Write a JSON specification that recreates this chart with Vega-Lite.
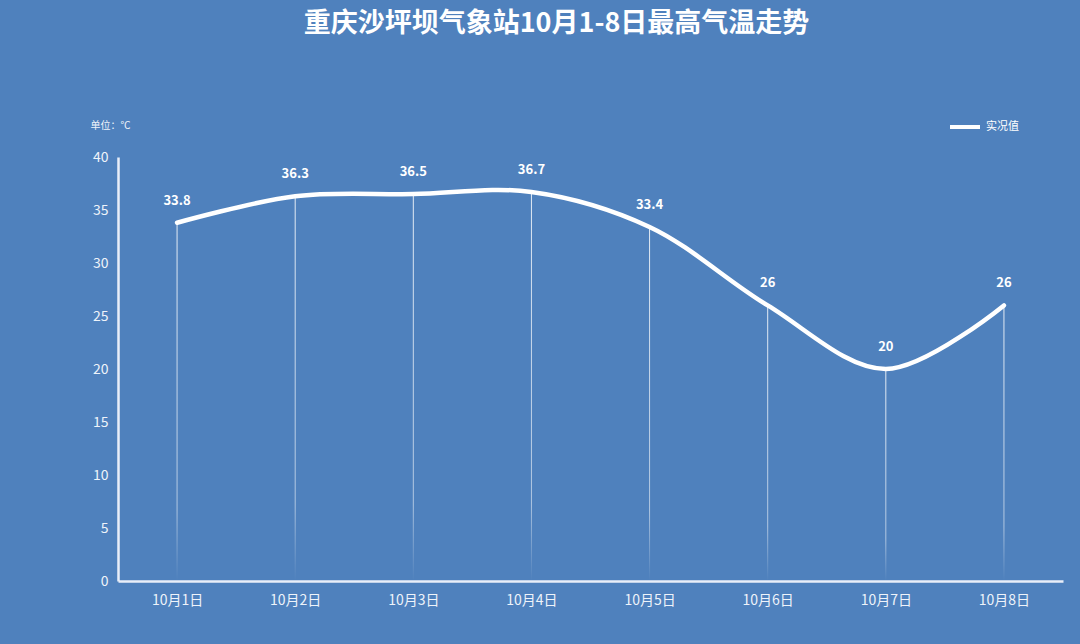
{
  "$schema": "https://vega.github.io/schema/vega-lite/v6.json",
  "width": 945,
  "height": 424,
  "autosize": {"type": "none"},
  "padding": {"left": 118, "top": 157, "right": 17, "bottom": 63},
  "background": "#4f81bd",
  "config": {
    "view": {"stroke": null},
    "font": "Noto Sans CJK SC"
  },
  "title": {
    "text": "重庆沙坪坝气象站10月1-8日最高气温走势",
    "fontSize": 27,
    "fontWeight": "bold",
    "color": "#ffffff",
    "anchor": "middle",
    "dx": -34,
    "offset": 72,
    "font": "Noto Sans CJK SC"
  },
  "data": {
    "values": [
      {"date": "10月1日", "temp": 33.8, "series": "实况值"},
      {"date": "10月2日", "temp": 36.3, "series": "实况值"},
      {"date": "10月3日", "temp": 36.5, "series": "实况值"},
      {"date": "10月4日", "temp": 36.7, "series": "实况值"},
      {"date": "10月5日", "temp": 33.4, "series": "实况值"},
      {"date": "10月6日", "temp": 26, "series": "实况值"},
      {"date": "10月7日", "temp": 20, "series": "实况值"},
      {"date": "10月8日", "temp": 26, "series": "实况值"}
    ]
  },
  "encoding": {
    "x": {
      "field": "date",
      "type": "ordinal",
      "sort": null,
      "scale": {"type": "point", "padding": 0.5},
      "axis": {
        "title": null,
        "labelAngle": 0,
        "labelColor": "#eef3fa",
        "labelFontSize": 14,
        "labelPadding": 12,
        "ticks": false,
        "domainColor": "#e8eef8",
        "domainWidth": 2.5,
        "grid": false
      }
    },
    "y": {
      "field": "temp",
      "type": "quantitative",
      "scale": {"domain": [0, 40], "nice": false},
      "axis": {
        "title": "单位：℃",
        "titleAngle": 0,
        "titleAlign": "left",
        "titleBaseline": "middle",
        "titleX": -28,
        "titleY": -32,
        "titleFontSize": 10,
        "titleFontWeight": "normal",
        "titleColor": "#eef3fa",
        "values": [0, 5, 10, 15, 20, 25, 30, 35, 40],
        "labelColor": "#eef3fa",
        "labelFontSize": 14,
        "labelPadding": 10,
        "ticks": false,
        "grid": false,
        "domainColor": "#e8eef8",
        "domainWidth": 2.5
      }
    }
  },
  "layer": [
    {
      "mark": {
        "type": "bar",
        "width": 1,
        "color": {
          "gradient": "linear",
          "x1": 0, "y1": 0, "x2": 0, "y2": 1,
          "stops": [
            {"offset": 0, "color": "rgba(255,255,255,0.85)"},
            {"offset": 0.8, "color": "rgba(255,255,255,0.55)"},
            {"offset": 1, "color": "rgba(255,255,255,0)"}
          ]
        }
      },
      "encoding": {
        "y2": {"datum": 0}
      }
    },
    {
      "mark": {
        "type": "line",
        "interpolate": "catmull-rom",
        "strokeWidth": 4.5,
        "strokeCap": "round"
      },
      "encoding": {
        "color": {
          "field": "series",
          "type": "nominal",
          "scale": {"range": ["#ffffff"]},
          "legend": {
            "title": null,
            "orient": "none",
            "legendX": 830,
            "legendY": -47,
            "symbolType": "stroke",
            "symbolStrokeWidth": 4,
            "symbolSize": 900,
            "labelColor": "#ffffff",
            "labelFontSize": 11,
            "labelOffset": 4
          }
        }
      }
    },
    {
      "mark": {
        "type": "text",
        "dy": -22,
        "fontSize": 13,
        "fontWeight": "bold",
        "color": "#ffffff"
      },
      "encoding": {
        "text": {"field": "temp", "type": "quantitative"}
      }
    }
  ]
}
